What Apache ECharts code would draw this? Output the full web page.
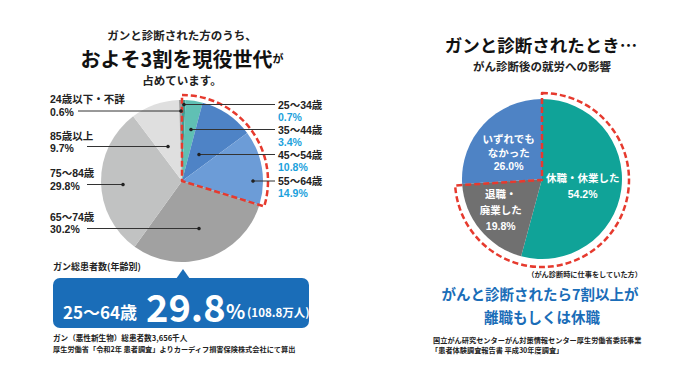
<!DOCTYPE html>
<html>
<head>
<meta charset="utf-8">
<script src="https://cdn.jsdelivr.net/npm/echarts@6/dist/echarts.min.js"></script>
<style>
html,body{margin:0;padding:0;background:#fff;}
#c{width:700px;height:392px;}
</style>
</head>
<body>
<div id="c"></div>
<script>
// ===== DATA =====
// Left chart: cancer patients by age group (clockwise from top)
const ageCategories = ['25～34歳', '35～44歳', '45～54歳', '55～64歳', '65～74歳', '75～84歳', '85歳以上', '24歳以下・不詳'];
const agePercents = [0.7, 3.4, 10.8, 14.9, 30.2, 29.8, 9.7, 0.6];
const workingAgeCategories = ['25～34歳', '35～44歳', '45～54歳', '55～64歳'];
const workingAgeRangeLabel = ['25～64歳'];
const workingAgeSharePct = [29.8];
const workingAgePatientsMan = [108.8];
const totalPatientsThousand = [3656];

// Right chart: impact on work after diagnosis (clockwise from top)
const workCategories = ['休職・休業した', '退職・廃業した', 'いずれでもなかった'];
const workLabels = ['休職・休業した', '退職・\n廃業した', 'いずれでも\nなかった'];
const workPercents = [54.2, 19.8, 26.0];
const leaveOrQuitCategories = ['休職・休業した', '退職・廃業した'];

// ===== STYLE / LAYOUT =====
const FONT = "'Noto Sans CJK JP', 'Noto Sans', sans-serif";
const LFONT = "'Liberation Sans', 'Noto Sans CJK JP', sans-serif";
const ageColors = ['#3f9f95', '#60c0b4', '#4e83c6', '#6c9cd7', '#a1a1a1', '#c1c2c2', '#dfdfdf', '#9d9d9d'];
const workColors = ['#10a398', '#707070', '#4e83c5'];
const RED = '#e63a2e';
const BLUE = '#1a6db8';
const CYAN = '#1ba1dc';

// label placement for left pie (annotation layout)
const ageLabelLayout = [
  {side: 'r', top: 98.5,  lineY: 104.5, x1: 184, x2: 275},
  {side: 'r', top: 123.5, lineY: 129.5, x1: 191, x2: 275},
  {side: 'r', top: 148.5, lineY: 154.5, x1: 199, x2: 275},
  {side: 'r', top: 174.5, lineY: 181,   x1: 253, x2: 275},
  {side: 'l', top: 210.5, lineY: 228.5, x1: 199, x2: 87},
  {side: 'l', top: 167,   lineY: 184.5, x1: 123, x2: 87},
  {side: 'l', top: 129.5, lineY: 146.5, x1: 168, x2: 87},
  {side: 'l', top: 93,    lineY: 111,   x1: 181, x2: 78}
];
const workLabelShift = [[-2, 1], [-8, 4], [-2, 3]];
const workLabelLineHeight = [16, 16, 13.5];

const sumOf = (cats, names, vals) => cats.reduce((s, c) => s + vals[names.indexOf(c)], 0);
const workingSum = +sumOf(workingAgeCategories, ageCategories, agePercents).toFixed(1);
const ageTotal = agePercents.reduce((a, b) => a + b, 0);
const leaveSum = +sumOf(leaveOrQuitCategories, workCategories, workPercents).toFixed(1);
const workTotal = workPercents.reduce((a, b) => a + b, 0);

const chart = echarts.init(document.getElementById('c'), null, {renderer: 'svg', width: 700, height: 392});

const txt = (x, y, text, size, opts) => Object.assign({
  type: 'text', x: x, y: y, silent: true,
  style: Object.assign({
    text: text, fontSize: size, fontFamily: FONT, fontWeight: 'bold', fill: '#222',
    align: 'center', textAlign: 'center', verticalAlign: 'middle', textVerticalAlign: 'middle'
  }, opts || {})
});

const leftX = (a) => a === 'l' ? 50 : 278;

const graphics = [
  // left titles
  txt(182, 35, 'ガンと診断された方のうち、', 11.5),
  {
    type: 'text', x: 182, y: 58, silent: true,
    style: {
      text: '{b|およそ' + Math.round(workingSum / 10) + '割を現役世代}{s|が}',
      align: 'center', textAlign: 'center', verticalAlign: 'middle', textVerticalAlign: 'middle',
      rich: {
        b: {fontSize: 20, fontWeight: 'bold', fontFamily: FONT, fill: '#111', color: '#111'},
        s: {fontSize: 11, fontWeight: 'bold', fontFamily: FONT, fill: '#111', color: '#111'}
      }
    }
  },
  txt(182, 80, '占めています。', 11.5),
  // box
  txt(53, 266, 'ガン総患者数(年齢別)', 9, {align: 'left', textAlign: 'left'}),
  {type: 'polygon', silent: true, shape: {points: [[176, 279], [183, 269], [190, 279]]}, style: {fill: BLUE}},
  {type: 'rect', silent: true, shape: {x: 53, y: 278, width: 256, height: 50, r: 7}, style: {fill: BLUE}},
  txt(63, 311, workingAgeRangeLabel[0], 17, {align: 'left', textAlign: 'left', fill: '#fff'}),
  txt(146, 305, workingAgeSharePct[0].toFixed(1), 38, {align: 'left', textAlign: 'left', fill: '#fff'}),
  txt(226, 310, '%', 20, {align: 'left', textAlign: 'left', fill: '#fff'}),
  txt(247, 312, '(' + workingAgePatientsMan[0].toFixed(1) + '万人)', 11.5, {align: 'left', textAlign: 'left', fill: '#fff'}),
  txt(53, 337, 'ガン（悪性新生物）総患者数' + totalPatientsThousand[0].toLocaleString('en-US') + '千人', 7.6, {align: 'left', textAlign: 'left'}),
  txt(53, 349, '厚生労働省「令和2年 患者調査」よりカーディフ損害保険株式会社にて算出', 7.2, {align: 'left', textAlign: 'left'}),
  // right titles
  txt(541, 44, 'ガンと診断されたとき…', 17.5, {fill: '#111'}),
  txt(542, 66, 'がん診断後の就労への影響', 11.5, {fill: '#222'}),
  txt(642, 274, '（がん診断時に仕事をしていた方）', 7.2, {align: 'right', textAlign: 'right'}),
  txt(540, 293, 'がんと診断されたら' + Math.floor(leaveSum / 10) + '割以上が', 14.5, {fill: BLUE}),
  txt(542, 316, '離職もしくは休職', 14.5, {fill: BLUE}),
  txt(433, 340, '国立がん研究センターがん対策情報センター厚生労働省委託事業', 7.2, {align: 'left', textAlign: 'left'}),
  txt(431, 350, '「患者体験調査報告書 平成30年度調査」', 7.2, {align: 'left', textAlign: 'left'})
];
// label leader lines and dots
ageLabelLayout.forEach(L => {
  graphics.push({type: 'line', silent: true, z: 100, shape: {x1: L.x1, y1: L.lineY, x2: L.x2, y2: L.lineY}, style: {stroke: '#333', lineWidth: 1}});
  graphics.push({type: 'circle', silent: true, z: 101, shape: {cx: L.x1, cy: L.lineY, r: 1.8}, style: {fill: '#222'}});
});

const option = {
  animation: false,
  backgroundColor: '#fff',
  graphic: {elements: graphics},
  series: [
    {
      type: 'pie', name: 'age', center: [182, 181], radius: 81, startAngle: 90, clockwise: true,
      silent: true, avoidLabelOverlap: false, emphasis: {disabled: true},
      itemStyle: {borderWidth: 0},
      data: ageCategories.map((n, i) => ({name: n, value: agePercents[i], itemStyle: {color: ageColors[i], borderWidth: 0}})),
      label: {
        show: true, position: 'outside',
        formatter: p => '{n|' + p.name + '}\n{' + (ageLabelLayout[p.dataIndex].side === 'r' ? 'vb' : 'v') + '|' + p.value.toFixed(1) + '%}',
        rich: {
          n: {fontSize: 10.5, lineHeight: 12.5, color: '#222', fontWeight: 'bold', fontFamily: LFONT},
          v: {fontSize: 10.5, lineHeight: 12.5, color: '#222', fontWeight: 'bold', fontFamily: LFONT},
          vb: {fontSize: 10.5, lineHeight: 12.5, color: CYAN, fontWeight: 'bold', fontFamily: LFONT}
        }
      },
      labelLine: {show: false},
      labelLayout: p => {
        const L = ageLabelLayout[p.dataIndex];
        return {x: leftX(L.side), y: L.top, align: 'left', verticalAlign: 'top'};
      }
    },
    {
      type: 'pie', name: 'ageHighlight', center: [182, 181], radius: 86, startAngle: 90, clockwise: true,
      silent: true, emphasis: {disabled: true}, label: {show: false}, labelLine: {show: false}, z: 5,
      data: [
        {value: workingSum, itemStyle: {color: 'rgba(0,0,0,0)', borderColor: RED, borderWidth: 2.5, borderType: [6, 3]}},
        {value: ageTotal - workingSum, itemStyle: {color: 'rgba(0,0,0,0)', borderWidth: 0}}
      ]
    },
    {
      type: 'pie', name: 'work', center: [542, 179], radius: 80, startAngle: 90, clockwise: true,
      silent: true, avoidLabelOverlap: false, emphasis: {disabled: true},
      itemStyle: {borderWidth: 0},
      data: workCategories.map((n, i) => ({
        name: n, value: workPercents[i],
        itemStyle: {color: workColors[i], borderWidth: 0},
        label: {lineHeight: workLabelLineHeight[i]}
      })),
      label: {
        show: true, position: 'inside',
        formatter: p => workLabels[p.dataIndex] + '\n' + p.value.toFixed(1) + '%',
        color: '#fff', fontSize: 10.5, fontWeight: 'bold', fontFamily: LFONT, lineHeight: 15, align: 'center'
      },
      labelLine: {show: false},
      labelLayout: p => ({dx: workLabelShift[p.dataIndex][0], dy: workLabelShift[p.dataIndex][1]})
    },
    {
      type: 'pie', name: 'workHighlight', center: [542, 180], radius: 87, startAngle: 90, clockwise: true,
      silent: true, emphasis: {disabled: true}, label: {show: false}, labelLine: {show: false}, z: 5,
      data: [
        {value: leaveSum, itemStyle: {color: 'rgba(0,0,0,0)', borderColor: RED, borderWidth: 2.5, borderType: [6, 3]}},
        {value: workTotal - leaveSum, itemStyle: {color: 'rgba(0,0,0,0)', borderWidth: 0}}
      ]
    }
  ]
};
chart.setOption(option);
</script>
</body>
</html>
